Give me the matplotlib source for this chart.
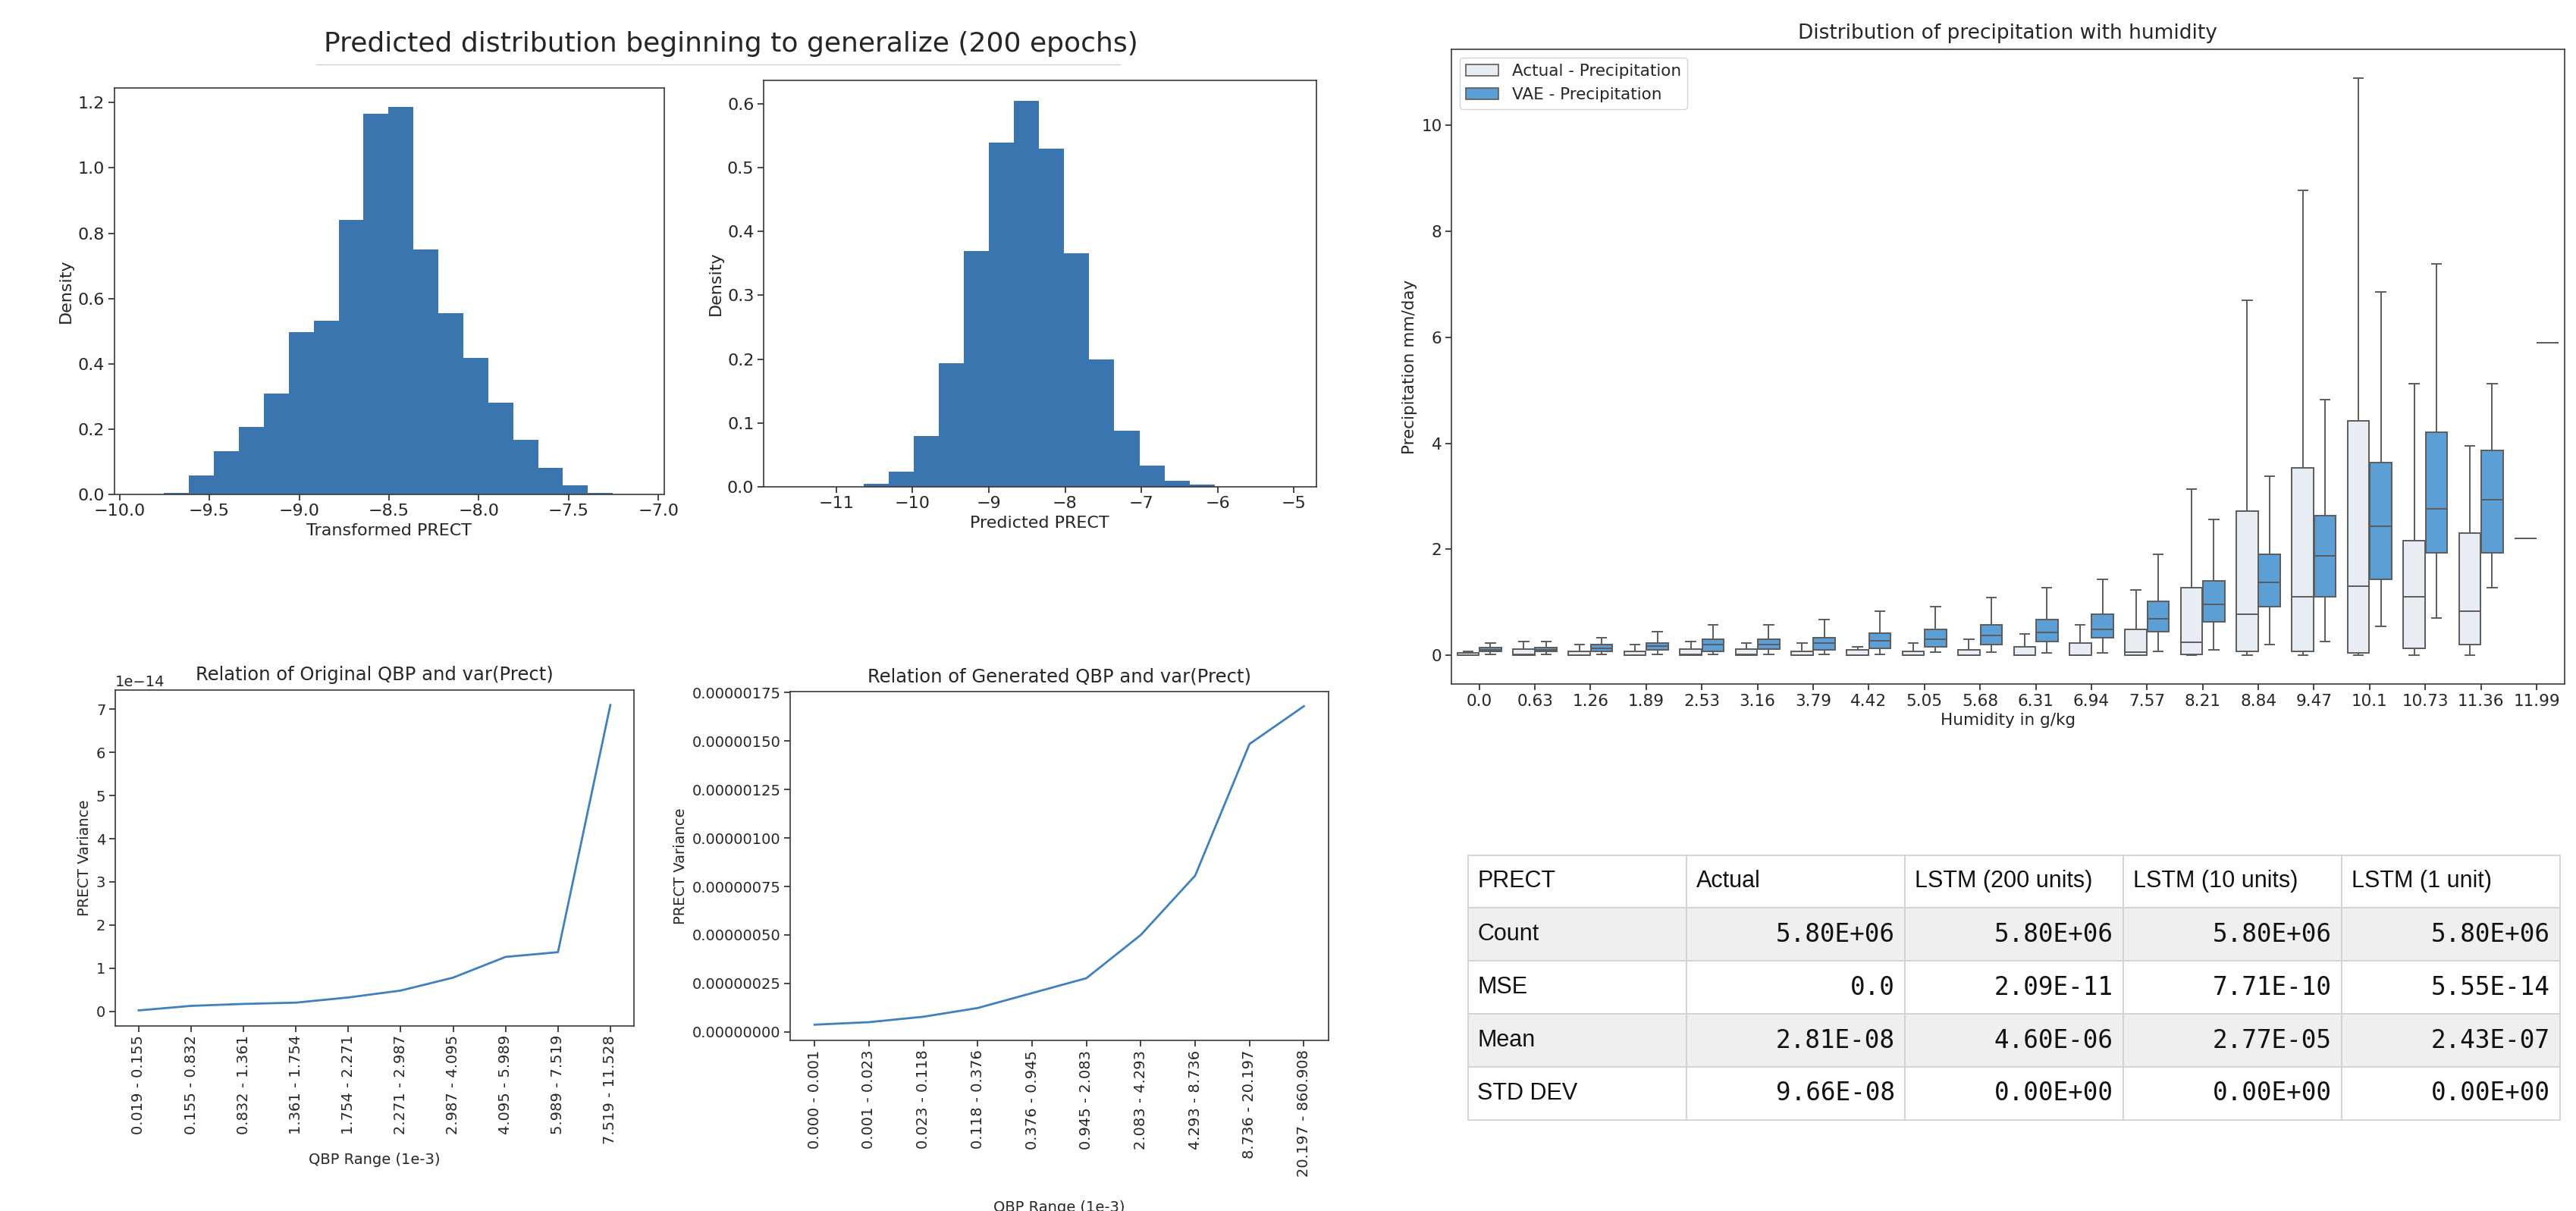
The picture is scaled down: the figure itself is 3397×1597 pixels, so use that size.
import numpy as np
import matplotlib
matplotlib.use('Agg')
import matplotlib.pyplot as plt
from matplotlib.patches import Patch
from matplotlib.lines import Line2D
from matplotlib.ticker import FormatStrFormatter, MultipleLocator

W, H = 3397, 1597

# histogram data (density per bin)
hist1_edges = np.linspace(-9.752, -7.254, 19)
hist1_density = [0.004, 0.058, 0.132, 0.206, 0.31, 0.497, 0.532, 0.842, 1.166,
                 1.186, 0.75, 0.554, 0.419, 0.281, 0.167, 0.082, 0.029, 0.005]
hist2_edges = np.linspace(-10.635, -6.042, 15)
hist2_density = [0.005, 0.023, 0.079, 0.194, 0.369, 0.539, 0.605, 0.53, 0.366,
                 0.199, 0.088, 0.033, 0.009, 0.003]

# QBP ranges vs variance
orig_ranges = ['0.019 - 0.155', '0.155 - 0.832', '0.832 - 1.361', '1.361 - 1.754',
               '1.754 - 2.271', '2.271 - 2.987', '2.987 - 4.095', '4.095 - 5.989',
               '5.989 - 7.519', '7.519 - 11.528']
orig_var = [0.02, 0.125, 0.17, 0.2, 0.32, 0.48, 0.78, 1.26, 1.37, 7.1]  # x 1e-14
gen_ranges = ['0.000 - 0.001', '0.001 - 0.023', '0.023 - 0.118', '0.118 - 0.376',
              '0.376 - 0.945', '0.945 - 2.083', '2.083 - 4.293', '4.293 - 8.736',
              '8.736 - 20.197', '20.197 - 860.908']
gen_var = [0.037, 0.05, 0.078, 0.123, 0.2, 0.277, 0.5, 0.806, 1.485, 1.68]  # x 1e-6

# boxplot stats per humidity bin
humidity = ['0.0', '0.63', '1.26', '1.89', '2.53', '3.16', '3.79', '4.42', '5.05', '5.68',
            '6.31', '6.94', '7.57', '8.21', '8.84', '9.47', '10.1', '10.73', '11.36', '11.99']
actual_lo = [0, 0, 0, 0, 0, 0, 0, 0, 0, 0, 0, 0, 0, 0, 0, 0, 0, 0, 0, 2.21]
actual_q1 = [0, 0, 0, 0, 0, 0, 0, 0, 0, 0, 0, 0, 0, 0.02, 0.08, 0.08, 0.05, 0.13, 0.2, 2.21]
actual_med = [0.01, 0.02, 0.01, 0.01, 0.02, 0.02, 0.01, 0.01, 0.01, 0.01,
              0.01, 0.01, 0.06, 0.25, 0.77, 1.11, 1.31, 1.11, 0.84, 2.21]
actual_q3 = [0.04, 0.12, 0.08, 0.08, 0.12, 0.12, 0.08, 0.1, 0.08, 0.11,
             0.16, 0.23, 0.49, 1.28, 2.72, 3.54, 4.43, 2.16, 2.3, 2.21]
actual_hi = [0.07, 0.26, 0.2, 0.2, 0.26, 0.23, 0.23, 0.16, 0.23, 0.3,
             0.4, 0.58, 1.24, 3.13, 6.69, 8.77, 10.89, 5.12, 3.95, 2.21]
vae_lo = [0.02, 0.02, 0.02, 0.02, 0.02, 0.02, 0.02, 0.02, 0.06, 0.06,
          0.04, 0.04, 0.08, 0.11, 0.2, 0.26, 0.55, 0.71, 1.28, 5.9]
vae_q1 = [0.07, 0.07, 0.07, 0.1, 0.07, 0.12, 0.11, 0.13, 0.16, 0.2,
          0.26, 0.33, 0.45, 0.64, 0.92, 1.11, 1.43, 1.93, 1.93, 5.9]
vae_med = [0.1, 0.11, 0.13, 0.18, 0.2, 0.21, 0.23, 0.28, 0.31, 0.37,
           0.43, 0.49, 0.69, 0.96, 1.37, 1.88, 2.44, 2.76, 2.94, 5.9]
vae_q3 = [0.14, 0.15, 0.2, 0.23, 0.3, 0.3, 0.33, 0.42, 0.49, 0.58,
          0.67, 0.77, 1.02, 1.4, 1.91, 2.63, 3.64, 4.21, 3.86, 5.9]
vae_hi = [0.23, 0.26, 0.33, 0.45, 0.58, 0.58, 0.67, 0.84, 0.92, 1.09,
          1.28, 1.43, 1.91, 2.57, 3.38, 4.83, 6.85, 7.38, 5.12, 5.9]

# table
table_cols = ['PRECT', 'Actual', 'LSTM (200 units)', 'LSTM (10 units)', 'LSTM (1 unit)']
table_rows = ['Count', 'MSE', 'Mean', 'STD DEV']
actual_vals = ['5.80E+06', '0.0', '2.81E-08', '9.66E-08']
lstm200_vals = ['5.80E+06', '2.09E-11', '4.60E-06', '0.00E+00']
lstm10_vals = ['5.80E+06', '7.71E-10', '2.77E-05', '0.00E+00']
lstm1_vals = ['5.80E+06', '5.55E-14', '2.43E-07', '0.00E+00']

bar_color = '#3a75af'
line_color = '#3f80bf'
actual_color = '#e8edf4'
vae_color = '#5c9ed6'
edge = '#5c5c5c'
text_color = '#262626'

plt.rcParams['font.family'] = 'DejaVu Sans'
plt.rcParams['text.color'] = text_color
plt.rcParams['axes.labelcolor'] = text_color
plt.rcParams['xtick.color'] = text_color
plt.rcParams['ytick.color'] = text_color
plt.rcParams['axes.edgecolor'] = '#3a3a3a'
plt.rcParams['axes.linewidth'] = 1.2


def rect(x0, y0, x1, y1):
    # pixel box -> figure fraction
    return [x0 / W, 1 - y1 / H, (x1 - x0) / W, (y1 - y0) / H]


fig = plt.figure(figsize=(W / 100, H / 100), dpi=100)

fig.text(964 / W, 1 - 58 / H, 'Predicted distribution beginning to generalize (200 epochs)',
         ha='center', va='center', fontsize=26)
fig.add_artist(Line2D([417 / W, 1477 / W], [1 - 85 / H, 1 - 85 / H], color='#d0d0d0', lw=1))

# histogram 1
ax1 = fig.add_axes(rect(150.5, 116, 875.5, 652))
ax1.stairs(hist1_density, hist1_edges, fill=True, color=bar_color)
ax1.set_xlim(-10.03, -6.97)
ax1.set_ylim(0, 1.245)
ax1.set_xlabel('Transformed PRECT', fontsize=16)
ax1.set_ylabel('Density', fontsize=16)
ax1.tick_params(labelsize=16, length=5.5, width=1.2)

# histogram 2
ax2 = fig.add_axes(rect(1007, 106, 1735.6, 641.8))
ax2.stairs(hist2_density, hist2_edges, fill=True, color=bar_color)
ax2.set_xlim(-11.95, -4.71)
ax2.set_ylim(0, 0.637)
ax2.set_xlabel('Predicted PRECT', fontsize=16)
ax2.set_ylabel('Density', fontsize=16)
ax2.tick_params(labelsize=16, length=5.5, width=1.2)

# line plot: original QBP
ax3 = fig.add_axes(rect(151.8, 909.5, 836, 1352.6))
ax3.plot(range(len(orig_ranges)), np.array(orig_var) * 1e-14, color=line_color, lw=2)
ax3.set_xticks(range(len(orig_ranges)))
ax3.set_xticklabels(orig_ranges, rotation=90)
ax3.set_title('Relation of Original QBP and var(Prect)', fontsize=17.5, pad=9)
ax3.set_xlabel('QBP Range (1e-3)', fontsize=14, labelpad=8)
ax3.set_ylabel('PRECT Variance', fontsize=14)
ax3.tick_params(labelsize=14, length=5.5, width=1.2)
ax3.yaxis.get_offset_text().set_fontsize(14)

# line plot: generated QBP
ax4 = fig.add_axes(rect(1042, 911.6, 1751.7, 1372))
ax4.plot(range(len(gen_ranges)), np.array(gen_var) * 1e-6, color=line_color, lw=2)
ax4.set_xticks(range(len(gen_ranges)))
ax4.set_xticklabels(gen_ranges, rotation=90)
ax4.yaxis.set_major_locator(MultipleLocator(0.25e-6))
ax4.yaxis.set_major_formatter(FormatStrFormatter('%.8f'))
ax4.set_ylim(-0.044e-6, 1.757e-6)
ax4.set_title('Relation of Generated QBP and var(Prect)', fontsize=17.5, pad=9)
ax4.set_xlabel('QBP Range (1e-3)', fontsize=14, labelpad=22)
ax4.set_ylabel('PRECT Variance', fontsize=14)
ax4.tick_params(labelsize=14, length=5.5, width=1.2)

# boxplot
ax5 = fig.add_axes(rect(1914, 65, 3381.7, 902.4))
n = len(humidity)
actual_stats = [dict(whislo=actual_lo[i], q1=actual_q1[i], med=actual_med[i],
                     q3=actual_q3[i], whishi=actual_hi[i], fliers=[]) for i in range(n)]
vae_stats = [dict(whislo=vae_lo[i], q1=vae_q1[i], med=vae_med[i],
                  q3=vae_q3[i], whishi=vae_hi[i], fliers=[]) for i in range(n)]
line_kw = dict(color=edge, linewidth=1.4)
for stats, offset, fc in [(actual_stats, -0.2, actual_color), (vae_stats, 0.2, vae_color)]:
    ax5.bxp(stats, positions=np.arange(n) + offset, widths=0.39, capwidths=0.17,
            patch_artist=True, showfliers=False, manage_ticks=False,
            boxprops=dict(facecolor=fc, edgecolor=edge, linewidth=1.4),
            whiskerprops=line_kw, capprops=line_kw, medianprops=line_kw)
ax5.set_xticks(range(n))
ax5.set_xticklabels(humidity)
ax5.set_xlim(-0.5, n - 0.5)
ax5.set_ylim(-0.545, 11.43)
ax5.set_title('Distribution of precipitation with humidity', fontsize=19, pad=10)
ax5.set_xlabel('Humidity in g/kg', fontsize=15.5)
ax5.set_ylabel('Precipitation mm/day', fontsize=15.5)
ax5.tick_params(labelsize=15.5, length=5.5, width=1.2)
handles = [Patch(facecolor=actual_color, edgecolor=edge, lw=1.2, label='Actual - Precipitation'),
           Patch(facecolor=vae_color, edgecolor=edge, lw=1.2, label='VAE - Precipitation')]
ax5.legend(handles=handles, loc='upper left', fontsize=15.5)

# table
ax6 = fig.add_axes(rect(1935.5, 1127.5, 3375.6, 1476.8))
ax6.axis('off')
cell_text = [table_cols] + [[table_rows[i], actual_vals[i], lstm200_vals[i],
                             lstm10_vals[i], lstm1_vals[i]] for i in range(len(table_rows))]
tbl = ax6.table(cellText=cell_text, bbox=[0, 0, 1, 1], cellLoc='left')
tbl.auto_set_font_size(False)
for (r, c), cell in tbl.get_celld().items():
    cell.set_edgecolor('#d2d2d2')
    cell.set_linewidth(1.3)
    cell.PAD = 0.045
    cell.set_facecolor('#efefef' if r in (1, 3) else 'white')
    txt = cell.get_text()
    txt.set_color('#111111')
    if r == 0 or c == 0:
        txt.set_fontfamily('Liberation Sans')
        txt.set_fontsize(22)
        cell._loc = 'left'
        txt.set_horizontalalignment('left')
    else:
        txt.set_fontfamily('DejaVu Sans Mono')
        txt.set_fontsize(23.5)
        cell._loc = 'right'
        txt.set_horizontalalignment('right')

fig.savefig('out.png', dpi=100)
